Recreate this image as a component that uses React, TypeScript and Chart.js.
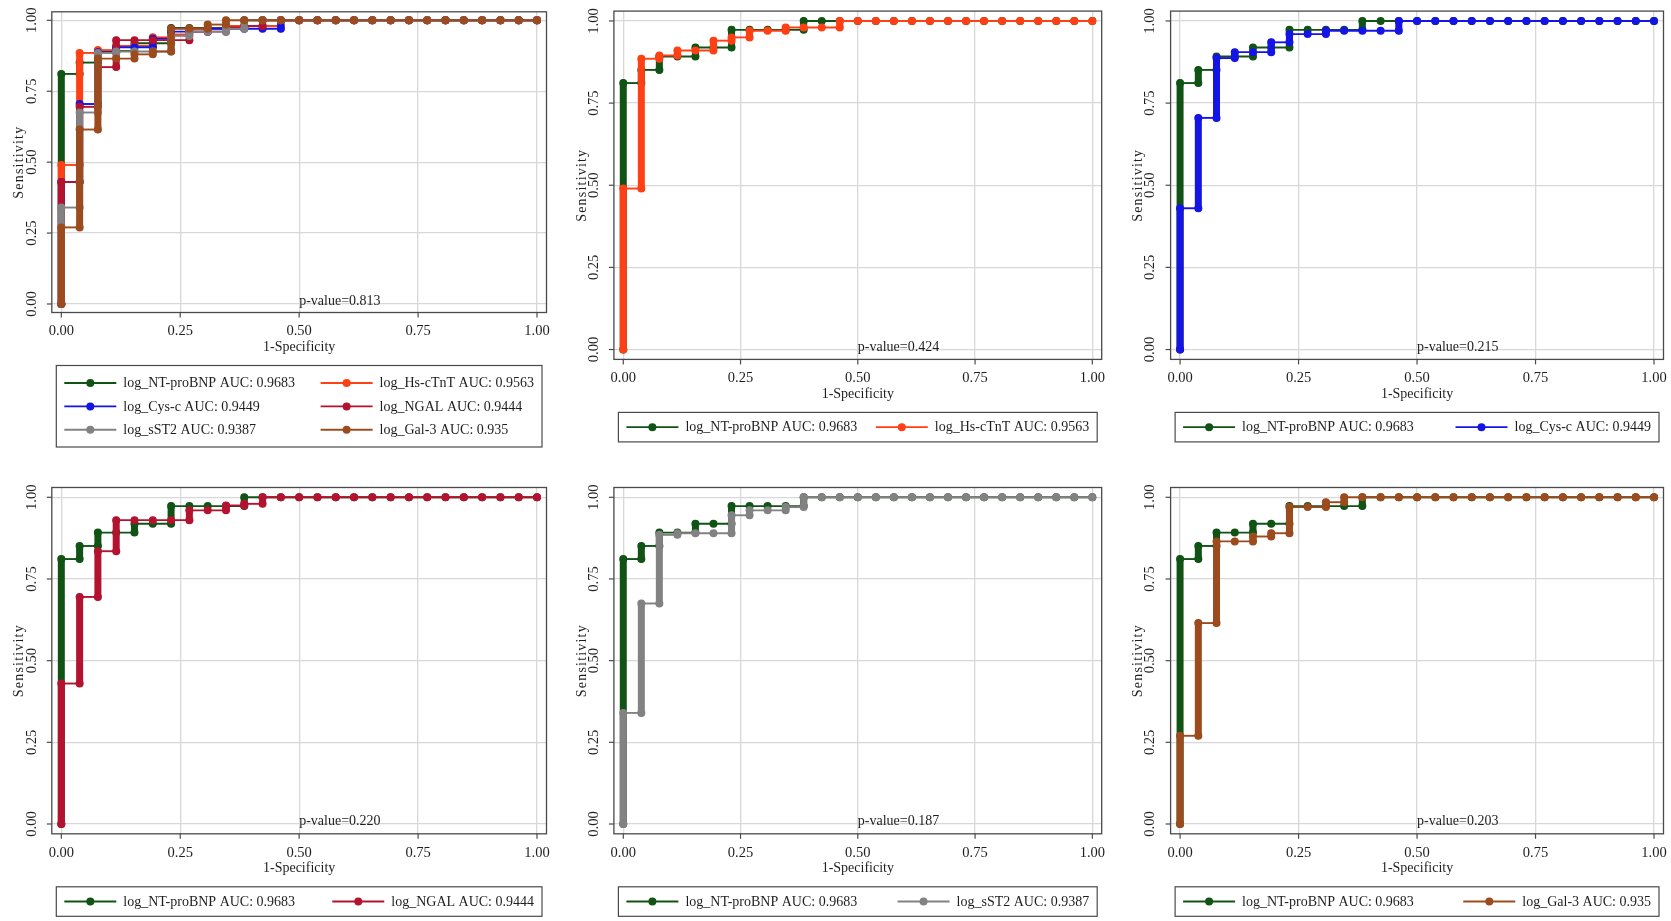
import React, { useEffect, useRef } from "react";
import { Chart, registerables } from "chart.js";

Chart.register(...registerables);

// 1-Specificity steps (26 controls)
const FPR = [
  0, 0.0385, 0.0769, 0.1154, 0.1538, 0.1923, 0.2308, 0.2692, 0.3077, 0.3462,
  0.3846, 0.4231, 0.4615, 0.5, 0.5385, 0.5769, 0.6154, 0.6538, 0.6923, 0.7308,
  0.7692, 0.8077, 0.8462, 0.8846, 0.9231, 0.9615, 1,
];

// Sensitivity reached at each 1-Specificity step
const NT_PROBNP = [0.811, 0.851, 0.892, 0.892, 0.919, 0.919, 0.973, 0.973, 0.973, 0.973, 1, 1, 1, 1, 1, 1, 1, 1, 1, 1, 1, 1, 1, 1, 1, 1, 1];
const HS_CTNT = [0.49, 0.885, 0.895, 0.91, 0.91, 0.94, 0.95, 0.97, 0.97, 0.98, 0.98, 0.98, 1, 1, 1, 1, 1, 1, 1, 1, 1, 1, 1, 1, 1, 1, 1];
const CYS_C = [0.43, 0.705, 0.887, 0.905, 0.905, 0.935, 0.96, 0.96, 0.97, 0.97, 0.97, 0.97, 1, 1, 1, 1, 1, 1, 1, 1, 1, 1, 1, 1, 1, 1, 1];
const NGAL = [0.43, 0.695, 0.835, 0.93, 0.93, 0.93, 0.93, 0.96, 0.96, 0.975, 0.98, 1, 1, 1, 1, 1, 1, 1, 1, 1, 1, 1, 1, 1, 1, 1, 1];
const SST2 = [0.34, 0.675, 0.885, 0.89, 0.89, 0.89, 0.945, 0.96, 0.96, 0.97, 1, 1, 1, 1, 1, 1, 1, 1, 1, 1, 1, 1, 1, 1, 1, 1, 1];
const GAL3 = [0.27, 0.615, 0.865, 0.865, 0.88, 0.89, 0.97, 0.97, 0.985, 1, 1, 1, 1, 1, 1, 1, 1, 1, 1, 1, 1, 1, 1, 1, 1, 1, 1];

const MARKER_NAMES = ["log_NT-proBNP", "log_Hs-cTnT", "log_Cys-c", "log_NGAL", "log_sST2", "log_Gal-3"];
const AUC_LABELS = ["0.9683", "0.9563", "0.9449", "0.9444", "0.9387", "0.935"];
const MARKER_SENS = [NT_PROBNP, HS_CTNT, CYS_C, NGAL, SST2, GAL3];
const MARKER_COLORS = ["#115315", "#ff3f14", "#1414e4", "#b3132f", "#828282", "#9b4b1d"];

const PANEL_MARKERS = [[0, 1, 2, 3, 4, 5], [0, 1], [0, 2], [0, 3], [0, 4], [0, 5]];
const P_VALUES = ["0.813", "0.424", "0.215", "0.220", "0.187", "0.203"];
const AXIS_TICKS = [0, 0.25, 0.5, 0.75, 1];

const FONT = "'Liberation Serif', 'Times New Roman', serif";
const TEXT = "#1e1e1e";
const GRID = "#d8d8d8";
const FRAME = "#4a4a4a";
const DOT_R = 4;
const RUN_W = 7;
const STEP_W = 1.9;

// panel geometry (pixels)
const COLS = [
  { x0: 0, w: 557, padL: 51.8, padR: 10.5 },
  { x0: 557, w: 557, padL: 56.9, padR: 12.3 },
  { x0: 1114, w: 557, padL: 56.6, padR: 7.5 },
];
const ROWS = [
  { y0: 0, h: 460, padT: 11.1, padB: 100.6 },
  { y0: 460, h: 461, padT: 27.5, padB: 87.2 },
];

function rocPoints(sens: number[]) {
  const pts: { x: number; y: number }[] = [];
  let prev = 0;
  FPR.forEach((x, i) => {
    pts.push({ x, y: prev });
    if (sens[i] !== prev) pts.push({ x, y: sens[i] });
    prev = sens[i];
  });
  return pts;
}

function makePanelPlugin(panel: number) {
  return {
    id: "rocPanel" + panel,
    beforeDatasetsDraw(chart: any) {
      const { ctx, chartArea: ca } = chart;
      ctx.save();
      ctx.strokeStyle = FRAME;
      ctx.lineWidth = 1.3;
      ctx.strokeRect(ca.left, ca.top, ca.right - ca.left, ca.bottom - ca.top);
      ctx.restore();
    },
    afterDraw(chart: any) {
      const { ctx, chartArea: ca } = chart;
      const xs = chart.scales.x;
      const ys = chart.scales.y;
      ctx.save();
      ctx.fillStyle = TEXT;
      ctx.strokeStyle = FRAME;
      ctx.lineWidth = 1.2;
      ctx.font = `14.5px ${FONT}`;

      // x ticks and labels
      ctx.textAlign = "center";
      ctx.textBaseline = "middle";
      AXIS_TICKS.forEach((v) => {
        const px = xs.getPixelForValue(v);
        ctx.beginPath();
        ctx.moveTo(px, ca.bottom);
        ctx.lineTo(px, ca.bottom + 5);
        ctx.stroke();
        ctx.fillText(v.toFixed(2), px, ca.bottom + 19);
      });
      // y ticks and rotated labels
      AXIS_TICKS.forEach((v) => {
        const py = ys.getPixelForValue(v);
        ctx.beginPath();
        ctx.moveTo(ca.left - 5, py);
        ctx.lineTo(ca.left, py);
        ctx.stroke();
        ctx.save();
        ctx.translate(ca.left - 20, py);
        ctx.rotate(-Math.PI / 2);
        ctx.fillText(v.toFixed(2), 0, 0);
        ctx.restore();
      });

      // axis titles
      ctx.font = `14px ${FONT}`;
      ctx.fillText("1-Specificity", xs.getPixelForValue(0.5), ca.bottom + 34.5);
      ctx.save();
      ctx.translate(ca.left - 32, (ca.top + ca.bottom) / 2);
      ctx.rotate(-Math.PI / 2);
      (ctx as any).letterSpacing = "1.2px";
      ctx.fillText("Sensitivity", 0, 0);
      ctx.restore();

      // p-value annotation
      ctx.textAlign = "left";
      ctx.textBaseline = "alphabetic";
      ctx.fillText("p-value=" + P_VALUES[panel], xs.getPixelForValue(0.5), ys.getPixelForValue(0) + 1);

      // legend box
      const items = PANEL_MARKERS[panel];
      const rows = Math.ceil(items.length / 2);
      const boxL = ca.left + 4.5;
      const boxR = ca.right - 4.5;
      const boxT = ca.bottom + 53;
      const boxH = rows === 1 ? 29.5 : 81.5;
      ctx.strokeStyle = FRAME;
      ctx.lineWidth = 1.2;
      ctx.strokeRect(boxL, boxT, boxR - boxL, boxH);

      const keyW = 52;
      const gap = 7;
      const labels = items.map((m) => `${MARKER_NAMES[m]} AUC: ${AUC_LABELS[m]}`);
      const col2W = Math.max(
        ...labels.filter((_, i) => i % 2 === 1).map((t) => ctx.measureText(t).width)
      );
      const colX = [boxL + 8, boxR - 8 - (keyW + gap + col2W)];
      items.forEach((m, i) => {
        const col = i % 2;
        const row = Math.floor(i / 2);
        const cy = rows === 1 ? boxT + boxH / 2 : boxT + 17.5 + row * 23.4;
        const x = colX[col];
        ctx.strokeStyle = MARKER_COLORS[m];
        ctx.lineWidth = STEP_W;
        ctx.beginPath();
        ctx.moveTo(x, cy);
        ctx.lineTo(x + keyW, cy);
        ctx.stroke();
        ctx.fillStyle = MARKER_COLORS[m];
        ctx.beginPath();
        ctx.arc(x + keyW / 2, cy, DOT_R, 0, Math.PI * 2);
        ctx.fill();
        ctx.fillStyle = TEXT;
        ctx.textBaseline = "middle";
        ctx.fillText(labels[i], x + keyW + gap, cy + 0.5);
      });
      ctx.restore();
    },
  };
}

function RocPanel({ panel }: { panel: number }) {
  const ref = useRef<HTMLCanvasElement>(null);
  const col = COLS[panel % 3];
  const row = ROWS[Math.floor(panel / 3)];
  const padT = panel === 0 ? 11.8 : row.padT;
  const padB = panel === 0 ? 147.5 : row.padB;

  useEffect(() => {
    if (!ref.current) return;
    const order = PANEL_MARKERS[panel].slice().reverse();
    const datasets = order.map((m) => ({
      label: MARKER_NAMES[m],
      data: rocPoints(MARKER_SENS[m]),
      showLine: true,
      borderColor: MARKER_COLORS[m],
      backgroundColor: MARKER_COLORS[m],
      borderWidth: STEP_W,
      pointRadius: DOT_R,
      pointBorderWidth: 0,
      pointHoverRadius: DOT_R,
      tension: 0,
      clip: false as any,
      segment: {
        borderWidth: (c: any) => (Math.abs(c.p0.x - c.p1.x) < 0.5 ? RUN_W : STEP_W),
        borderCapStyle: (c: any) => (Math.abs(c.p0.x - c.p1.x) < 0.5 ? "round" : "butt"),
      },
    }));

    const chart = new Chart(ref.current, {
      type: "scatter",
      data: { datasets: datasets as any },
      options: {
        responsive: false,
        animation: false,
        devicePixelRatio: 1,
        events: [],
        layout: { padding: { left: col.padL, right: col.padR, top: padT, bottom: padB } },
        plugins: { legend: { display: false }, tooltip: { enabled: false } },
        scales: {
          x: {
            type: "linear",
            min: -0.02,
            max: 1.02,
            afterBuildTicks: (s: any) => {
              s.ticks = AXIS_TICKS.map((v) => ({ value: v }));
            },
            afterFit: (s: any) => {
              s.height = 0;
            },
            ticks: { display: false },
            grid: { color: GRID, lineWidth: 1.3, drawTicks: false },
            border: { display: false },
          },
          y: {
            type: "linear",
            min: -0.03,
            max: 1.03,
            afterBuildTicks: (s: any) => {
              s.ticks = AXIS_TICKS.map((v) => ({ value: v }));
            },
            afterFit: (s: any) => {
              s.width = 0;
            },
            ticks: { display: false },
            grid: { color: GRID, lineWidth: 1.3, drawTicks: false },
            border: { display: false },
          },
        },
      },
      plugins: [makePanelPlugin(panel)],
    });
    return () => chart.destroy();
  }, [panel]);

  return (
    <canvas
      ref={ref}
      width={col.w}
      height={row.h}
      style={{ position: "absolute", left: col.x0, top: row.y0, width: col.w, height: row.h, display: "block" }}
    />
  );
}

export default function App() {
  return (
    <div style={{ position: "absolute", left: 0, top: 0, width: 1671, height: 921, background: "#ffffff" }}>
      {PANEL_MARKERS.map((_, p) => (
        <RocPanel key={p} panel={p} />
      ))}
    </div>
  );
}
